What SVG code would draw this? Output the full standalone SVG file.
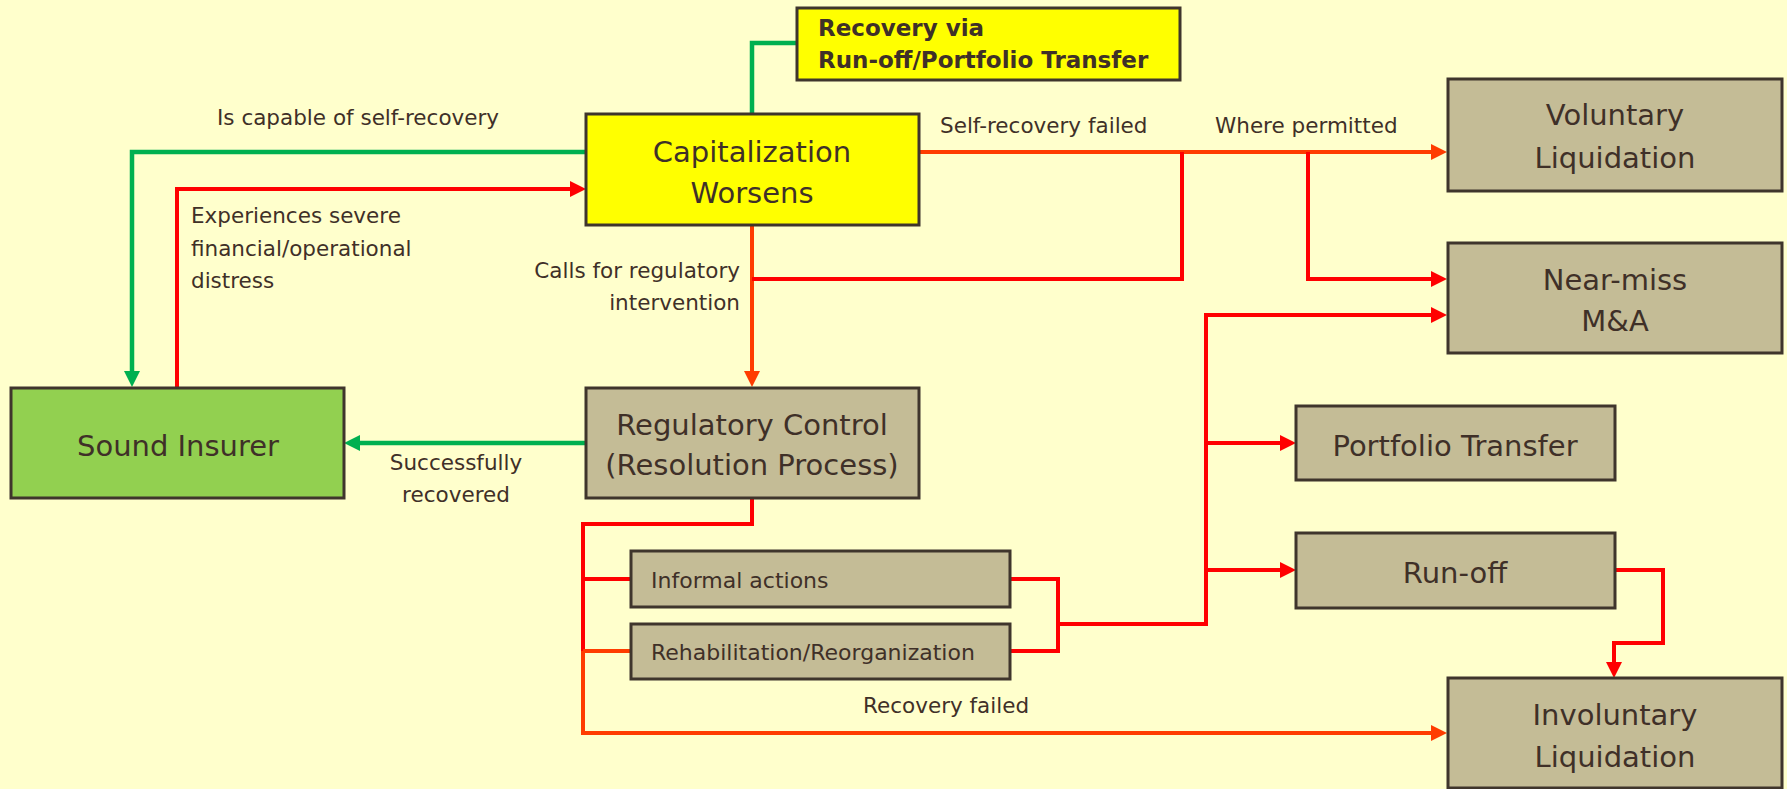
<svg xmlns="http://www.w3.org/2000/svg" width="1787" height="789" viewBox="0 0 1787 789">
  <style>
    .box { stroke: #3f352c; stroke-width: 3; }
    .tan { fill: #c4bc96; }
    .yel { fill: #ffff00; }
    .grn { fill: #92d050; }
    .title { font-family: "DejaVu Sans", sans-serif; font-size: 29px; fill: #3f3028; text-anchor: middle; }
    .small { font-family: "DejaVu Sans", sans-serif; font-size: 22px; fill: #3f3028; }
    .label { font-family: "DejaVu Sans", sans-serif; font-size: 21.5px; fill: #3f3028; }
    .bold { font-family: "DejaVu Sans", sans-serif; font-weight: bold; font-size: 23px; fill: #3f3028; }
    .g { fill: none; stroke: #00b050; stroke-width: 4.5; }
    .r { fill: none; stroke: #ff0000; stroke-width: 4; }
    .o { fill: none; stroke: #ff3c00; stroke-width: 4; }
  </style>
  <defs>
    <marker id="ag" viewBox="0 0 16 16" markerWidth="16" markerHeight="16" markerUnits="userSpaceOnUse" refX="0" refY="8" orient="auto">
      <path d="M0,0 L16,8 L0,16 z" fill="#00b050"/>
    </marker>
    <marker id="ar" viewBox="0 0 16 16" markerWidth="16" markerHeight="16" markerUnits="userSpaceOnUse" refX="0" refY="8" orient="auto">
      <path d="M0,0 L16,8 L0,16 z" fill="#ff0000"/>
    </marker>
    <marker id="ao" viewBox="0 0 16 16" markerWidth="16" markerHeight="16" markerUnits="userSpaceOnUse" refX="0" refY="8" orient="auto">
      <path d="M0,0 L16,8 L0,16 z" fill="#ff3c00"/>
    </marker>
  </defs>

  <rect width="1787" height="789" fill="#ffffcc"/>

  <!-- connectors -->
  <g id="connectors">
    <path class="g" d="M586,152 H132 V371" marker-end="url(#ag)"/>
    <path class="r" d="M177,387 V189 H570" marker-end="url(#ar)"/>
    <path class="g" d="M752,114 V43 H797"/>
    <path class="o" d="M752,225 V371" stroke-width="5" marker-end="url(#ao)"/>
    <path class="g" d="M586,443 H360" stroke-width="5" marker-end="url(#ag)"/>
    <path class="o" d="M919,152 H1431" marker-end="url(#ao)"/>
    <path class="r" d="M752,279 H1182 V152"/>
    <path class="r" d="M1308,152 V279 H1431" marker-end="url(#ar)"/>
    <path class="r" d="M752,498 V524 H583 V651"/>
    <path class="o" d="M583,651 V733 H1431" marker-end="url(#ao)"/>
    <path class="r" d="M583,579 H631"/>
    <path class="o" d="M583,651 H631"/>
    <path class="r" d="M1010,579 H1058 V651 H1010"/>
    <path class="r" d="M1058,624 H1206 V315 H1431" marker-end="url(#ar)"/>
    <path class="r" d="M1206,443 H1280" marker-end="url(#ar)"/>
    <path class="r" d="M1206,570 H1280" marker-end="url(#ar)"/>
    <path class="r" d="M1615,570 H1663 V643 H1614 V662" marker-end="url(#ar)"/>
  </g>

  <!-- connector labels -->
  <g id="labels">
    <text class="label" x="217" y="125">Is capable of self-recovery</text>
    <text class="label" x="191" y="223">Experiences severe</text>
    <text class="label" x="191" y="256">financial/operational</text>
    <text class="label" x="191" y="288">distress</text>
    <text class="label" x="740" y="278" text-anchor="end">Calls for regulatory</text>
    <text class="label" x="740" y="310" text-anchor="end">intervention</text>
    <text class="label" x="940" y="133">Self-recovery failed</text>
    <text class="label" x="1215" y="133">Where permitted</text>
    <text class="label" x="456" y="470" text-anchor="middle">Successfully</text>
    <text class="label" x="456" y="502" text-anchor="middle">recovered</text>
    <text class="label" x="863" y="713">Recovery failed</text>
  </g>

  <g id="recovery-via">
    <rect class="box yel" x="797" y="8" width="383" height="72"/>
    <text class="bold" x="818" y="36">Recovery via</text>
    <text class="bold" x="818" y="68">Run-off/Portfolio Transfer</text>
  </g>

  <g id="capitalization-worsens">
    <rect class="box yel" x="586" y="114" width="333" height="111"/>
    <text class="title" x="752" y="162">Capitalization</text>
    <text class="title" x="752" y="203">Worsens</text>
  </g>

  <g id="sound-insurer">
    <rect class="box grn" x="11" y="388" width="333" height="110"/>
    <text class="title" x="178" y="456">Sound Insurer</text>
  </g>

  <g id="regulatory-control">
    <rect class="box tan" x="586" y="388" width="333" height="110"/>
    <text class="title" x="752" y="435">Regulatory Control</text>
    <text class="title" x="752" y="475">(Resolution Process)</text>
  </g>

  <g id="informal-actions">
    <rect class="box tan" x="631" y="551" width="379" height="56"/>
    <text class="small" x="651" y="588">Informal actions</text>
  </g>

  <g id="rehabilitation">
    <rect class="box tan" x="631" y="624" width="379" height="55"/>
    <text class="small" x="651" y="660">Rehabilitation/Reorganization</text>
  </g>

  <g id="voluntary-liquidation">
    <rect class="box tan" x="1448" y="79" width="334" height="112"/>
    <text class="title" x="1615" y="125">Voluntary</text>
    <text class="title" x="1615" y="168">Liquidation</text>
  </g>

  <g id="near-miss">
    <rect class="box tan" x="1448" y="243" width="334" height="110"/>
    <text class="title" x="1615" y="290">Near-miss</text>
    <text class="title" x="1615" y="331">M&amp;A</text>
  </g>

  <g id="portfolio-transfer">
    <rect class="box tan" x="1296" y="406" width="319" height="74"/>
    <text class="title" x="1455" y="456">Portfolio Transfer</text>
  </g>

  <g id="run-off">
    <rect class="box tan" x="1296" y="533" width="319" height="75"/>
    <text class="title" x="1455" y="583">Run-off</text>
  </g>

  <g id="involuntary-liquidation">
    <rect class="box tan" x="1448" y="678" width="334" height="110"/>
    <text class="title" x="1615" y="725">Involuntary</text>
    <text class="title" x="1615" y="767">Liquidation</text>
  </g>
</svg>
